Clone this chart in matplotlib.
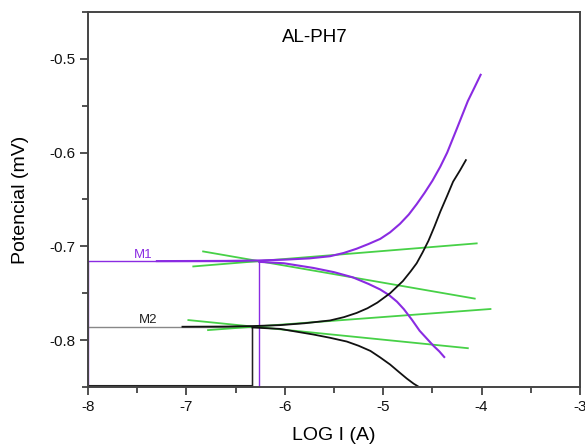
import numpy as np
import matplotlib.pyplot as plt
from matplotlib.ticker import MultipleLocator

plt.rcParams['font.family'] = ['Liberation Sans', 'DejaVu Sans']

# M1 (purple) polarization curve
m1_an_x = [-7.3, -6.6, -6.26, -6.01, -5.75, -5.54, -5.4, -5.27, -5.15, -5.03, -4.93, -4.83, -4.74,
           -4.66, -4.58, -4.50, -4.42, -4.35, -4.25, -4.14, -4.07, -4.01]
m1_an_y = [-0.7157, -0.7155, -0.7150, -0.7142, -0.7128, -0.7105, -0.707, -0.7025, -0.6975, -0.692, -0.685,
           -0.676, -0.666, -0.655, -0.643, -0.630, -0.615, -0.600, -0.574, -0.545, -0.530, -0.517]
m1_ca_x = [-6.26, -6.01, -5.71, -5.5, -5.31, -5.15, -5.03, -4.94, -4.86, -4.79, -4.71, -4.63,
           -4.56, -4.49, -4.43, -4.38]
m1_ca_y = [-0.7165, -0.718, -0.723, -0.7275, -0.733, -0.740, -0.746, -0.752, -0.759, -0.767, -0.778,
           -0.790, -0.798, -0.806, -0.812, -0.818]

# M2 (black) polarization curve
m2_an_x = [-7.04, -6.6, -6.33, -6.05, -5.8, -5.54, -5.4, -5.27, -5.16, -5.06, -4.93, -4.80, -4.72,
           -4.66, -4.60, -4.54, -4.48, -4.42, -4.35, -4.29, -4.22, -4.16]
m2_an_y = [-0.7857, -0.7855, -0.785, -0.784, -0.782, -0.779, -0.7755, -0.771, -0.766, -0.760, -0.750,
           -0.737, -0.7265, -0.718, -0.7065, -0.694, -0.679, -0.663, -0.646, -0.631, -0.619, -0.608]
m2_ca_x = [-6.33, -6.05, -5.71, -5.54, -5.37, -5.25, -5.13, -5.03, -4.93, -4.84, -4.76, -4.69, -4.62]
m2_ca_y = [-0.7865, -0.788, -0.794, -0.7975, -0.8015, -0.806, -0.8115, -0.8185, -0.826, -0.834, -0.841,
           -0.8465, -0.851]

# Tafel fits (green)
tafel_x = [[-6.93, -4.05], [-6.83, -4.07], [-6.78, -3.91], [-6.98, -4.14]]
tafel_y = [[-0.7214, -0.6968], [-0.7054, -0.7557], [-0.7893, -0.7668], [-0.7786, -0.8086]]

# corrosion point (log icorr, Ecorr)
ecorr = [-0.7157, -0.7857]
icorr = [-6.26, -6.33]
labels = ['M1', 'M2']

purple = '#8a2be2'
ymin, ymax = -0.85, -0.45

fig = plt.figure(figsize=(5.85, 4.47), dpi=100)
ax = fig.add_axes([0.1504, 0.1342, 0.8411, 0.8390])

# construction lines
ax.plot([-8, -8, icorr[0], icorr[0]], [ymin, ecorr[0], ecorr[0], ymin], color=purple, lw=1.0)
ax.plot([-8, icorr[1], icorr[1]], [ecorr[1], ecorr[1], ymin], color='#888888', lw=1.0)
ax.plot([icorr[1], icorr[1]], [ecorr[1], ymin], color='#222222', lw=1.0)
ax.plot([-8, icorr[1]], [ymin + 0.0008, ymin + 0.0008], color='#222222', lw=1.5)

for tx, ty in zip(tafel_x, tafel_y):
    ax.plot(tx, ty, color='#33cc33', lw=1.3, alpha=0.9)

ax.plot(m1_an_x, m1_an_y, color=purple, lw=1.5)
ax.plot(m1_ca_x, m1_ca_y, color=purple, lw=1.5)
ax.plot(m2_an_x, m2_an_y, color='#111111', lw=1.3)
ax.plot(m2_ca_x, m2_ca_y, color='#111111', lw=1.3)

ax.text(-7.44, ecorr[0] + 0.0003, labels[0], color=purple, fontsize=9.5, ha='center', va='bottom')
ax.text(-7.39, ecorr[1] + 0.0003, labels[1], color='#222222', fontsize=9.5, ha='center', va='bottom')
ax.text(0.461, 0.933, 'AL-PH7', transform=ax.transAxes, fontsize=13.5, ha='center', va='center')

ax.set_xlim(-8, -3)
ax.set_ylim(ymin, ymax)
ax.xaxis.set_major_locator(MultipleLocator(1))
ax.xaxis.set_minor_locator(MultipleLocator(0.5))
ax.yaxis.set_major_locator(MultipleLocator(0.1))
ax.yaxis.set_minor_locator(MultipleLocator(0.05))
ax.set_xticklabels([f'{int(v)}' for v in ax.get_xticks()])
ax.yaxis.set_major_formatter(plt.FuncFormatter(lambda v, p: f'{v:.1f}'))
ax.tick_params(which='both', direction='out', width=1.2, colors='#333333', labelcolor='#111111', labelsize=11)
ax.tick_params(which='major', length=6, pad=3)
ax.tick_params(which='minor', length=4)
for s in ax.spines.values():
    s.set_linewidth(1.4)
    s.set_color('#444444')

ax.set_xlabel('LOG I (A)', fontsize=14, labelpad=10)
ax.set_ylabel('Potencial (mV)', fontsize=14, labelpad=15)

fig.savefig('out.png', dpi=100)
